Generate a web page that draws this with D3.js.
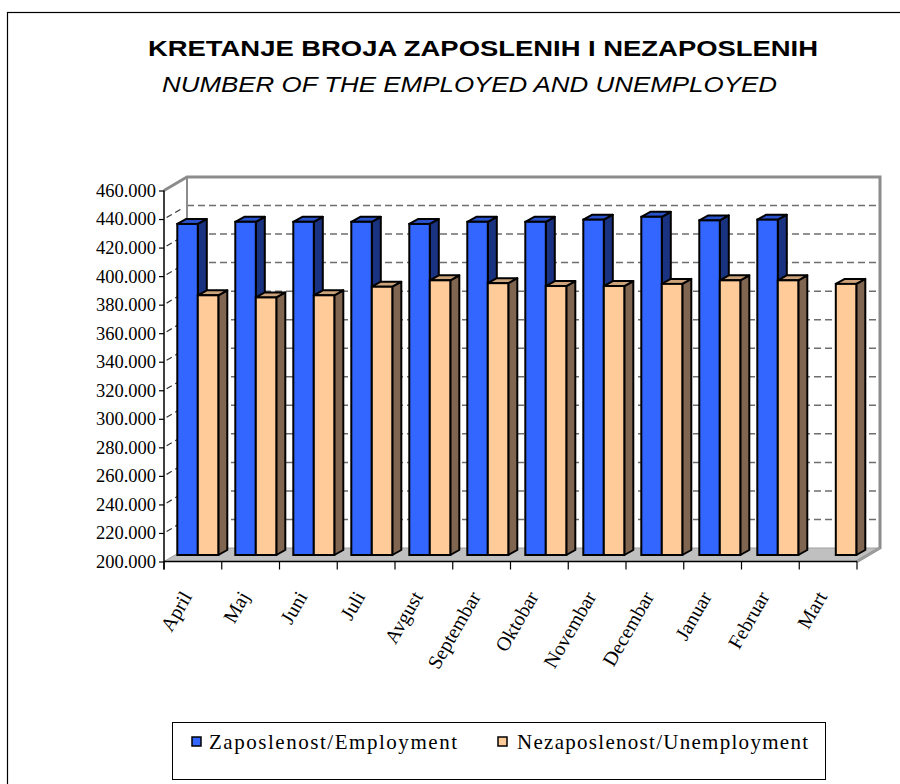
<!DOCTYPE html>
<html>
<head>
<meta charset="utf-8">
<script src="https://cdn.jsdelivr.net/npm/d3@7"></script>
<style>
  body { margin: 0; background: #fff; }
  svg { display: block; }
</style>
</head>
<body>
<div id="chart"></div>
<script>
// data
var months = ["April", "Maj", "Juni", "Juli", "Avgust", "Septembar", "Oktobar",
              "Novembar", "Decembar", "Januar", "Februar", "Mart"];
var employment = [432000, 433500, 433500, 433500, 432000, 433500, 433500,
                  435000, 437000, 434500, 435000, null];
var unemployment = [382000, 380500, 382000, 388000, 392500, 390500, 388500,
                    388500, 390000, 392500, 392500, 390000];
var yTicks = [200000, 220000, 240000, 260000, 280000, 300000, 320000, 340000,
              360000, 380000, 400000, 420000, 440000, 460000];
var seriesNames = ["Zaposlenost/Employment", "Nezaposlenost/Unemployment"];

var W = 900, H = 784;
var DX = 23, DY = 13.5;          // depth of the 3d box
var bdx = 9, bdy = 5;            // depth of one bar
var colors = [
  {front: "#3366ff", top: "#2952cc", side: "#1a3380"},
  {front: "#ffcc99", top: "#cca37a", side: "#806650"}
];

var svg = d3.select("#chart").append("svg")
  .attr("width", W).attr("height", H);

// outer frame
svg.append("rect")
  .attr("x", 7.5).attr("y", 12.5)
  .attr("width", 900).attr("height", 800)
  .attr("fill", "none").attr("stroke", "#000").attr("stroke-width", 1.2);

// titles
svg.append("text")
  .attr("x", 483).attr("y", 56)
  .attr("text-anchor", "middle")
  .attr("font-family", "Liberation Sans, Arial, sans-serif")
  .attr("font-weight", "bold").attr("font-size", 22)
  .attr("textLength", 670).attr("lengthAdjust", "spacingAndGlyphs")
  .text("KRETANJE BROJA ZAPOSLENIH I NEZAPOSLENIH");
svg.append("text")
  .attr("x", 469.5).attr("y", 92)
  .attr("text-anchor", "middle")
  .attr("font-family", "Liberation Sans, Arial, sans-serif")
  .attr("font-style", "italic").attr("font-size", 22)
  .attr("textLength", 615).attr("lengthAdjust", "spacingAndGlyphs")
  .text("NUMBER OF THE EMPLOYED AND UNEMPLOYED");

// scales
var y = d3.scaleLinear().domain([200000, 460000]).range([561.5, 190.5]);
var x = d3.scaleBand().domain(months).range([164, 857]);
var barX = d3.scaleBand().domain(months).range([171.3, 867.3]);

var x0 = x.range()[0], x1 = x.range()[1];
var yb = y(200000), yt = y(460000);

// floor
svg.append("polygon")
  .attr("points", [[x0, yb], [x1, yb], [x1 + DX, yb - DY], [x0 + DX, yb - DY]].join(" "))
  .attr("fill", "#c0c0c0").attr("stroke", "#a0a0a0").attr("stroke-width", 1);

// back wall gridlines
var grid = yTicks.filter(function(d) { return d > 200000 && d < 460000; });
svg.selectAll(".grid").data(grid).enter().append("line")
  .attr("x1", x0 + DX).attr("x2", x1 + DX)
  .attr("y1", function(d) { return y(d) - DY; })
  .attr("y2", function(d) { return y(d) - DY; })
  .attr("stroke", "#6e6e6e").attr("stroke-width", 1.5)
  .attr("stroke-dasharray", "7,4");
// side wall gridlines
svg.selectAll(".sgrid").data(grid).enter().append("line")
  .attr("x1", x0).attr("x2", x0 + DX)
  .attr("y1", function(d) { return y(d); })
  .attr("y2", function(d) { return y(d) - DY; })
  .attr("stroke", "#333").attr("stroke-width", 1.2)
  .attr("stroke-dasharray", "0,3,6,4,6,20");

// walls edges
svg.append("polyline")
  .attr("points", [[x0, yt], [x0 + DX, yt - DY], [x1 + DX, yt - DY], [x1 + DX, yb - DY], [x1, yb]].join(" "))
  .attr("fill", "none").attr("stroke", "#8c8c8c").attr("stroke-width", 3);
svg.append("line")
  .attr("x1", x0 + DX).attr("x2", x0 + DX)
  .attr("y1", yt - DY).attr("y2", yb - DY)
  .attr("stroke", "#8c8c8c").attr("stroke-width", 2);
svg.append("line")
  .attr("x1", x1).attr("x2", x1 + DX)
  .attr("y1", yb).attr("y2", yb - DY)
  .attr("stroke", "#a0a0a0").attr("stroke-width", 1.5);

// bars
var bw = 20.5, lift = 6.5, shift = 6;
function drawBar(g, left, v, c) {
  if (v == null) return;
  var top = y(v) - lift, bot = yb - lift, r = left + bw;
  g.append("polygon")
    .attr("points", [[r, top], [r + bdx, top - bdy], [r + bdx, bot - bdy], [r, bot]].join(" "))
    .attr("fill", c.side).attr("stroke", "#000").attr("stroke-width", 2)
    .attr("stroke-linejoin", "round");
  g.append("polygon")
    .attr("points", [[left, top], [r, top], [r + bdx, top - bdy], [left + bdx, top - bdy]].join(" "))
    .attr("fill", c.top).attr("stroke", "#000").attr("stroke-width", 2)
    .attr("stroke-linejoin", "round");
  g.append("rect")
    .attr("x", left).attr("y", top)
    .attr("width", bw).attr("height", bot - top)
    .attr("fill", c.front).attr("stroke", "#000").attr("stroke-width", 2);
}
var bars = svg.append("g");
months.forEach(function(m, i) {
  var g = bars.append("g");
  drawBar(g, barX(m) + shift, employment[i], colors[0]);
  drawBar(g, barX(m) + shift + bw, unemployment[i], colors[1]);
});

// y axis
var yAxis = svg.append("g")
  .attr("transform", "translate(" + x0 + ",0)")
  .call(d3.axisLeft(y).tickValues(yTicks).tickSize(5).tickPadding(3)
    .tickFormat(function(d) { return d3.format(",")(d).replace(/,/g, "."); }));
yAxis.select(".domain").remove();
yAxis.selectAll("text")
  .attr("font-family", "Liberation Serif, Times New Roman, serif")
  .attr("font-size", 18.5).attr("fill", "#000");
yAxis.selectAll("line").attr("stroke", "#000").attr("stroke-width", 1.2);
svg.append("line")
  .attr("x1", x0).attr("x2", x0)
  .attr("y1", yt).attr("y2", yb + 8)
  .attr("stroke", "#000").attr("stroke-width", 1.5);

// x axis line and ticks at category edges
svg.append("line")
  .attr("x1", x0).attr("x2", x1)
  .attr("y1", yb).attr("y2", yb)
  .attr("stroke", "#000").attr("stroke-width", 1.5);
var edges = months.map(function(m) { return x(m); }).concat([x1]);
svg.selectAll(".xtick").data(edges).enter().append("line")
  .attr("x1", function(d) { return d; }).attr("x2", function(d) { return d; })
  .attr("y1", yb).attr("y2", yb + 8)
  .attr("stroke", "#000").attr("stroke-width", 1.2);

var xAxis = svg.append("g")
  .attr("transform", "translate(0," + yb + ")")
  .call(d3.axisBottom(x).tickSize(0));
xAxis.select(".domain").remove();
xAxis.selectAll("text")
  .attr("font-family", "Liberation Serif, Times New Roman, serif")
  .attr("font-size", 20).attr("fill", "#000")
  .attr("text-anchor", "end")
  .attr("dy", "0.35em")
  .attr("transform", "translate(-9,30) rotate(-60)");

// legend
var lg = svg.append("g");
lg.append("rect")
  .attr("x", 172.5).attr("y", 722.5).attr("width", 653).attr("height", 57)
  .attr("fill", "#fff").attr("stroke", "#000").attr("stroke-width", 1);
var legX = [192, 498], legTx = [209, 517], legLen = [248, 291];
seriesNames.forEach(function(n, i) {
  lg.append("rect")
    .attr("x", legX[i]).attr("y", 737).attr("width", 9).attr("height", 9)
    .attr("fill", colors[i].front).attr("stroke", "#000").attr("stroke-width", 1.5);
  lg.append("text")
    .attr("x", legTx[i]).attr("y", 749)
    .attr("font-family", "Liberation Serif, Times New Roman, serif")
    .attr("font-size", 21)
    .attr("textLength", legLen[i]).attr("lengthAdjust", "spacing")
    .text(n);
});
</script>
</body>
</html>
